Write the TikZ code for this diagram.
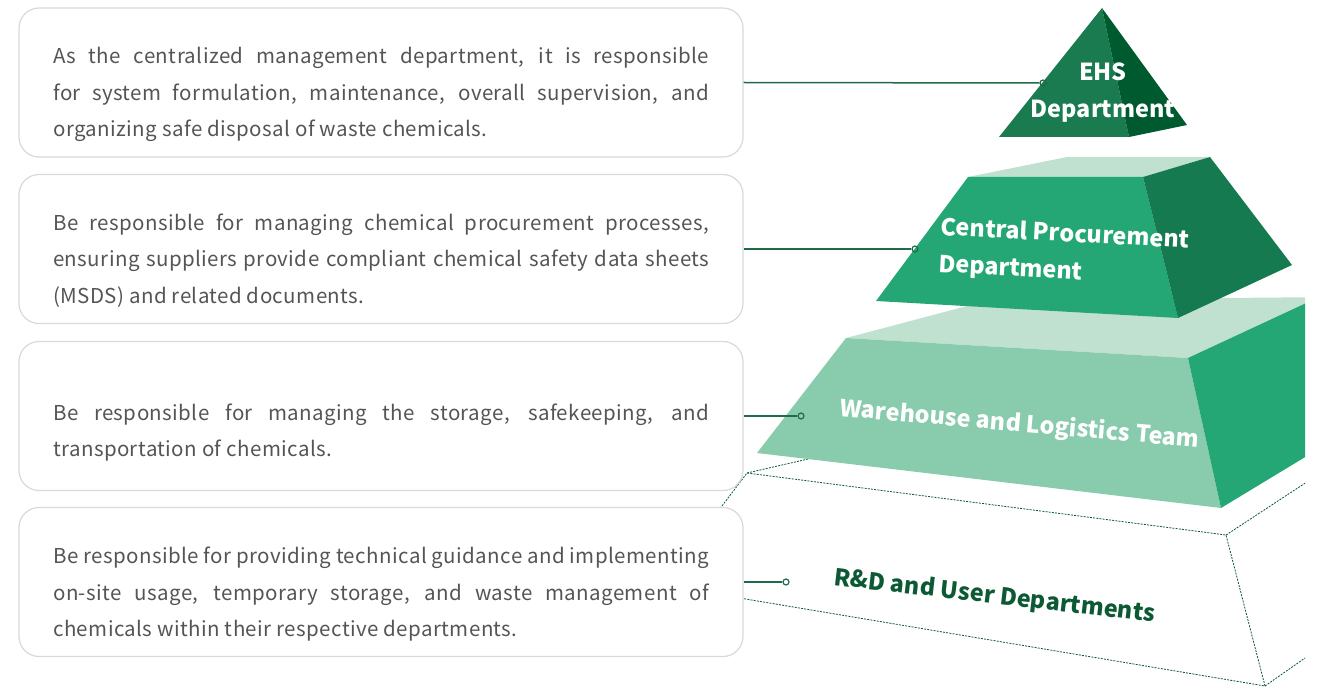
\documentclass[tikz,border=0pt]{standalone}
\usepackage{fontspec}
\setmainfont{Noto Sans CJK SC}
\definecolor{ehsL}{HTML}{1A7B50}
\definecolor{ehsR}{HTML}{005A2F}
\definecolor{procF}{HTML}{25A775}
\definecolor{procR}{HTML}{157A4F}
\definecolor{topL}{HTML}{C0E1CF}
\definecolor{wareF}{HTML}{88CBAD}
\definecolor{wareR}{HTML}{25A775}
\definecolor{rdGreen}{HTML}{0B5A34}
\definecolor{linkG}{HTML}{1F6B47}
\definecolor{boxgray}{HTML}{D9D9D9}
\definecolor{txtgray}{HTML}{555555}
\newcommand{\jl}[1]{\makebox[656pt][s]{#1}}
\tikzset{
  descbox/.style={draw=boxgray, line width=1.2pt, rounded corners=20pt, fill=white,
    minimum width=724pt, minimum height=149pt, inner sep=0pt},
  desctext/.style={anchor=base west, align=left, inner sep=0pt,
    font=\fontsize{20.5}{36.5}\selectfont\addfontfeature{LetterSpace=2.0}, text=txtgray},
  link/.style={draw=linkG, line width=1.5pt},
  dot/.style={circle, draw=linkG, line width=1.2pt, minimum size=6pt, inner sep=0pt},
  lvl/.style={font=\bfseries\fontsize{23.4}{37}\selectfont, text=white, inner sep=0pt},
  rdline/.style={draw=rdGreen, line width=0.8pt, dash pattern=on 2pt off 1.2pt},
}
\begin{document}
\begin{tikzpicture}[x=1pt,y=-1pt]
\useasboundingbox (0,0) rectangle (1318,687);
% bottom level (dashed outline)
\begin{scope}
\clip (0,0) rectangle (1305,687);
\draw[rdline] (662,585) -- (747,473) -- (1226,535) -- (1265,686) -- cycle;
\draw[rdline] (747,473) -- (830,454);
\draw[rdline] (1226,535) -- (1345,457);
\draw[rdline] (1265,686) -- (1345,630);
\end{scope}
% description boxes
\node[descbox] (b1) at (381,82.5) {};
\node[descbox] (b2) at (381,249) {};
\node[descbox] (b3) at (381,416) {};
\node[descbox] (b4) at (381,582) {};
\node[desctext] (t1) at (53,137) {\jl{As the centralized management department, it is responsible}\\\jl{for system formulation, maintenance, overall supervision, and}\\organizing safe disposal of waste chemicals.};
\node[desctext] (t2) at (53,303) {\jl{Be responsible for managing chemical procurement processes,}\\\jl{ensuring suppliers provide compliant chemical safety data sheets}\\(MSDS) and related documents.};
\node[desctext] (t3) at (53,456.5) {\jl{Be responsible for managing the storage, safekeeping, and}\\transportation of chemicals.};
\node[desctext] (t4) at (53,636.5) {\jl{Be responsible for providing technical guidance and implementing}\\\jl{on-site usage, temporary storage, and waste management of}\\chemicals within their respective departments.};
% warehouse level
\begin{scope}
\clip (0,0) rectangle (1305,687);
\fill[topL] (846,338) -- (990,300) -- (1340,297) -- (1188,358) -- cycle;
\fill[wareF] (846,338) -- (1188,358) -- (1221,508) -- (757,453) -- cycle;
\fill[wareR] (1188,358) -- (1330,292) -- (1330,442) -- (1221,508) -- cycle;
\end{scope}
% procurement level
\fill[topL] (968,177) -- (1067,157) -- (1210,157) -- (1143,177) -- cycle;
\fill[procF] (968,177) -- (1143,177) -- (1178,318) -- (876,301) -- cycle;
\fill[procR] (1143,177) -- (1210,157) -- (1292,265) -- (1178,318) -- cycle;
% EHS level
\fill[ehsL] (1102,8) -- (1129,137) -- (999,137) -- cycle;
\fill[ehsR] (1102,8) -- (1187,125) -- (1129,137) -- cycle;
% labels
\node[lvl, align=center] (l1) at (1103,93) {EHS\\Department};
\node[lvl, align=left, anchor=base west, rotate=-3] (l2) at (938,272) {Central Procurement\\Department};
\node[lvl, anchor=base west, rotate=-5] (l3) at (839,416) {Warehouse and Logistics Team};
\node[lvl, text=rdGreen, anchor=base west, rotate=-6.6] (l4) at (833,585) {R\&D and User Departments};
% connectors
\node[dot] (d1) at (1043,83) {};
\node[dot] (d2) at (915,249) {};
\node[dot] (d3) at (801,416) {};
\node[dot] (d4) at (786,582) {};
\draw[link] (b1.east) -- (d1.west);
\draw[link] (b2.east) -- (d2.west);
\draw[link] (b3.east) -- (d3.west);
\draw[link] (b4.east) -- (d4.west);
\end{tikzpicture}
\end{document}
